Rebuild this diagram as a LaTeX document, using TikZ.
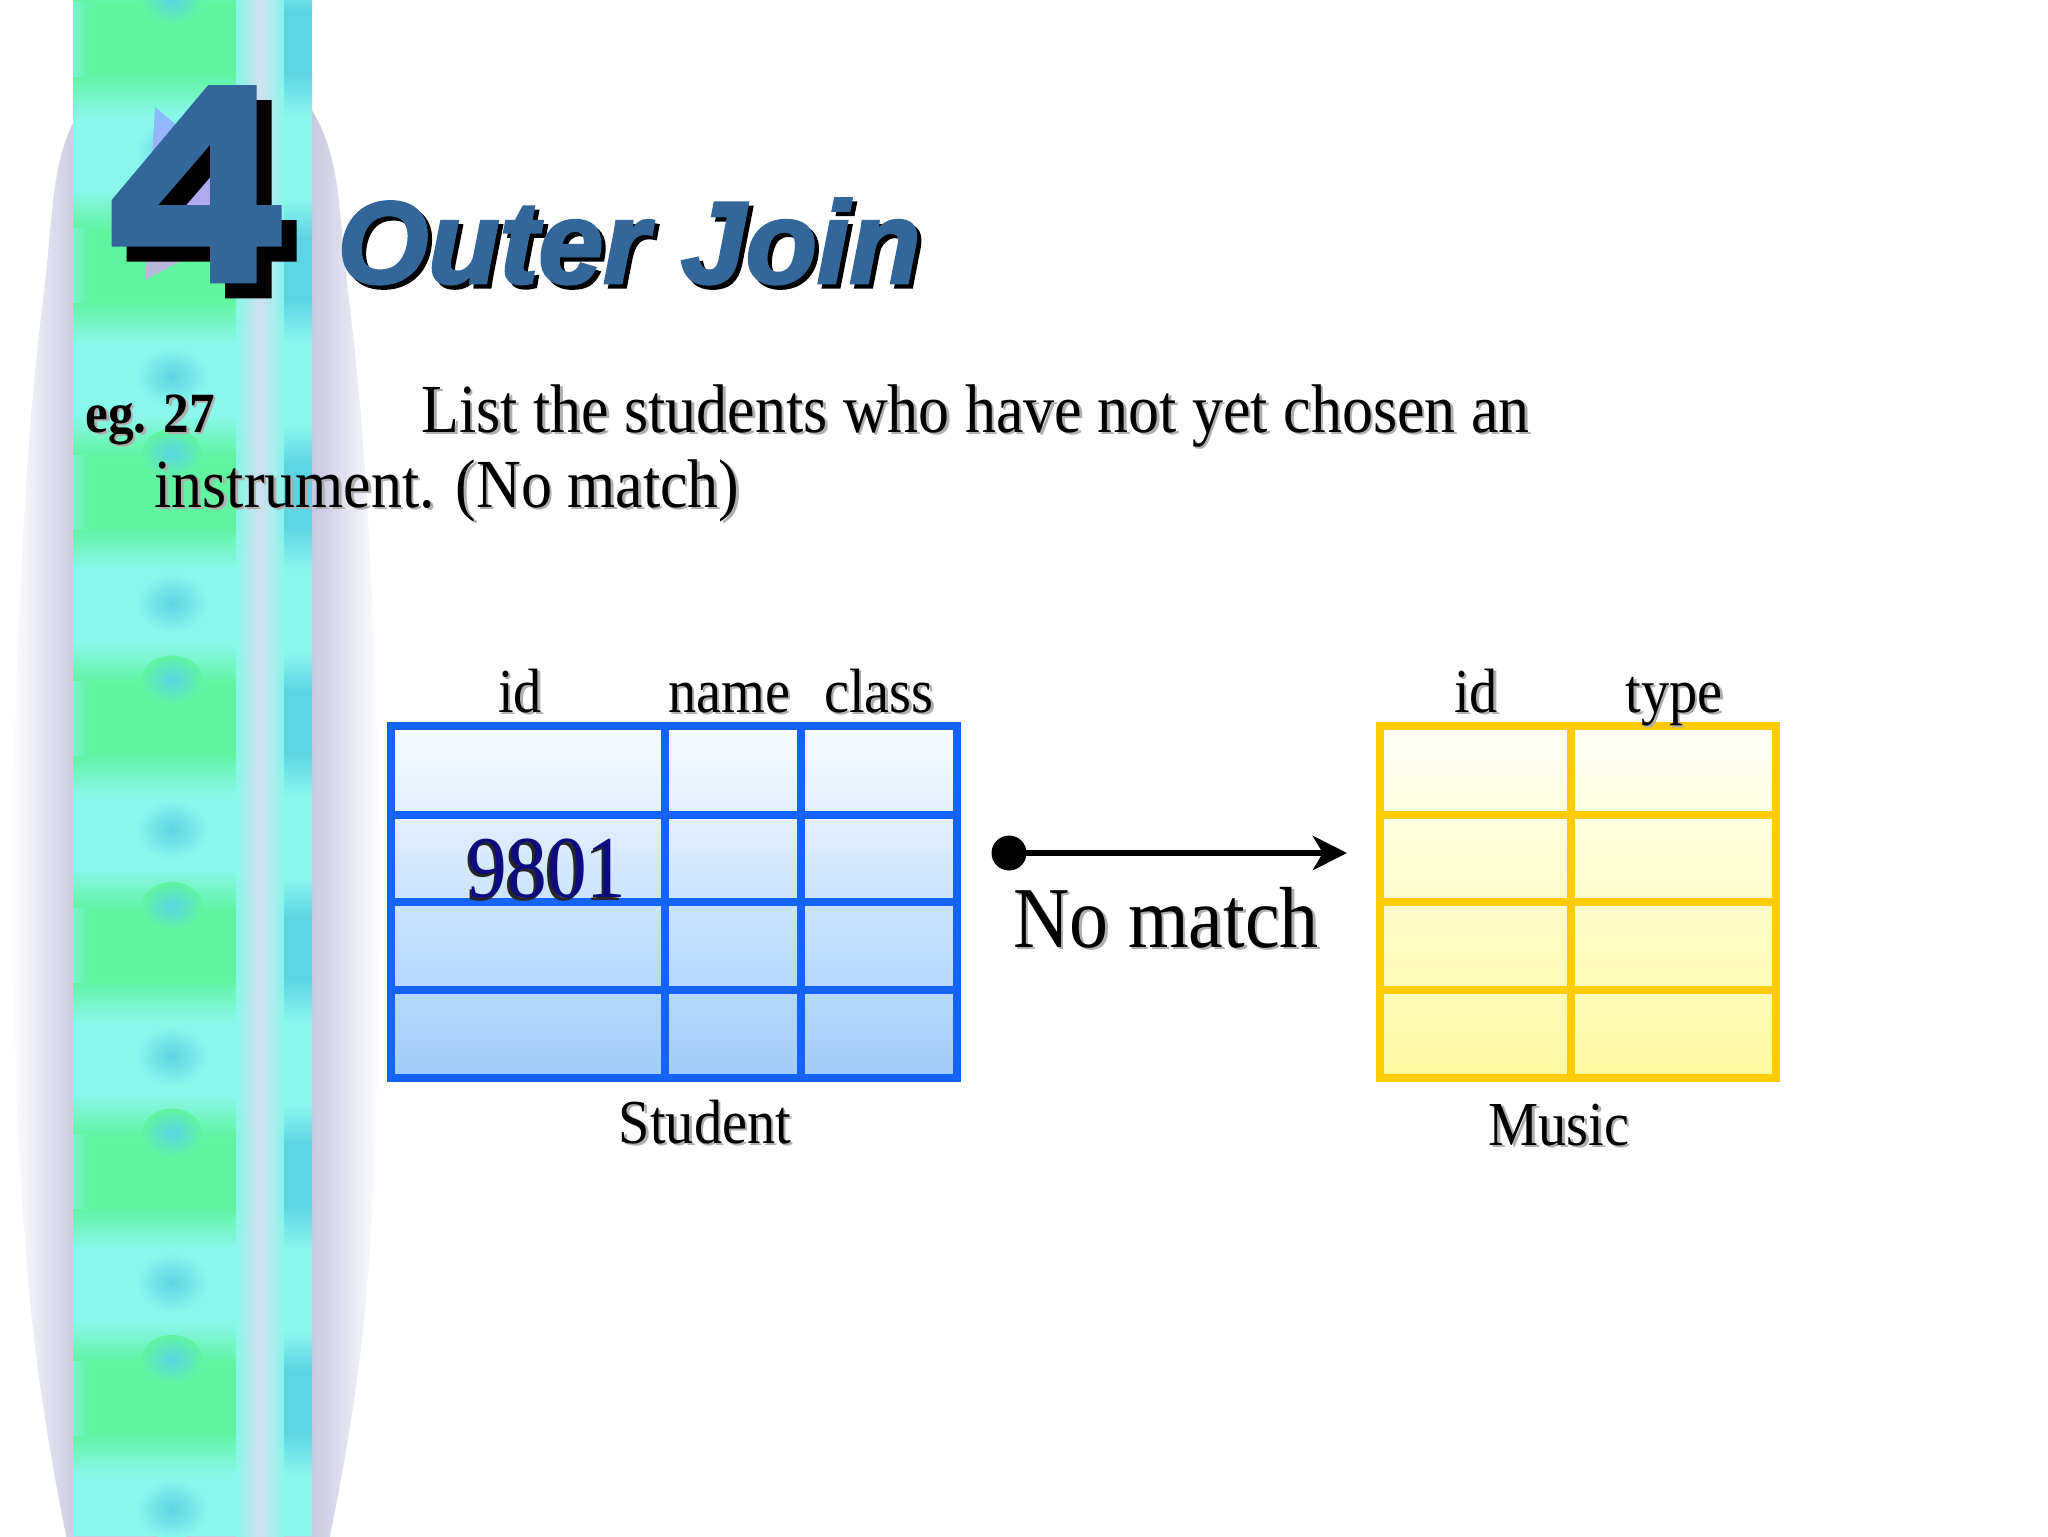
\documentclass[tikz,border=0pt]{standalone}
\usepackage{fontspec}
\setmainfont{Liberation Serif}[FakeStretch=0.9]
\newfontfamily\titlefont{Liberation Sans}[BoldItalicFeatures={FakeBold=2.5}]
\usetikzlibrary{arrows.meta}
\definecolor{titleblue}{RGB}{51,102,153}
\definecolor{stuline}{RGB}{20,100,250}
\definecolor{stutop}{RGB}{247,251,255}
\definecolor{stubot}{RGB}{160,204,250}
\definecolor{musline}{RGB}{255,204,0}
\definecolor{mustop}{RGB}{255,255,246}
\definecolor{musbot}{RGB}{255,250,160}
\definecolor{lav}{RGB}{200,200,224}
\definecolor{aqua}{RGB}{138,247,236}
\definecolor{mint}{RGB}{96,244,160}
\definecolor{teal2}{RGB}{92,212,228}
\definecolor{pale}{RGB}{216,222,240}
\definecolor{navy2}{RGB}{12,12,128}
\definecolor{shadowgray}{RGB}{175,175,175}
\definecolor{tri1}{RGB}{136,187,255}
\definecolor{tri2}{RGB}{176,168,240}
\definecolor{tri3}{RGB}{186,186,214}
\pgfdeclarehorizontalshading{lavshade}{100bp}{color(0bp)=(white); color(25bp)=(white); color(34bp)=(lav); color(66bp)=(lav); color(75bp)=(white); color(100bp)=(white)}
% text with a drop shadow, set inside one node
\newcommand\shd[2][shadowgray]{\leavevmode\rlap{\kern0.9pt\raisebox{-0.9pt}{\textcolor{#1}{#2}}}#2}
\tikzset{
  body/.style={inner sep=0, text=black, font=\fontsize{24.2}{28}\selectfont},
  egst/.style={inner sep=0, text=black, font=\fontsize{20}{24}\selectfont\bfseries},
  lbl/.style={inner sep=0, text=black, font=\fontsize{22}{26}\selectfont},
  bigtxt/.style={inner sep=0, text=black, font=\fontsize{30.5}{36}\selectfont},
  numtxt/.style={inner sep=0, text=navy2, font=\fontsize{31}{36}\selectfont},
  titletxt/.style={inner sep=0, text=titleblue, font=\titlefont\bfseries\itshape\fontsize{41}{48}\selectfont},
  stuframe/.style={draw=stuline, line width=2.9pt},
  musframe/.style={draw=musline, line width=2.9pt},
  conn/.style={line width=2.1pt, -{Stealth[length=12pt, width=12pt, inset=3.5pt]}},
}
\begin{document}
\begin{tikzpicture}[x=0.3516pt, y=-0.3516pt]
\useasboundingbox (0,0) rectangle (2048,1536);
\clip (0,0) rectangle (2048,1536);
\fill[white] (0,0) rectangle (2048,1536);

% lavender backdrop
\shade[shading=lavshade] plot[smooth, tension=0.7] coordinates
  {(67,1540) (30,1300) (13,950) (20,600) (43,300) (80,110) (196,40) (312,110) (349,300) (372,600) (379,950) (366,1300) (329,1540)} -- cycle;

% strip
\fill[aqua] (73,0) rectangle (312,1536);
\foreach \k in {0,...,6} {
  \pgfmathsetmacro\yy{-8+226.5*\k}
  \shade[top color=aqua, bottom color=mint] (73,\yy-30) rectangle (250,\yy+12);
  \fill[mint] (73,\yy+12) rectangle (250,\yy+82);
  \shade[top color=mint, bottom color=aqua] (73,\yy+82) rectangle (250,\yy+125);
  \shade[left color=aqua, right color=mint, opacity=0.6] (73,\yy+10) rectangle (90,\yy+84);
  \shade[inner color=teal2, outer color=aqua] (172,\yy+158) ellipse (36 and 30);
  \shade[inner color=teal2, outer color=mint] (172,\yy+8) ellipse (30 and 24);
  \shade[top color=aqua, bottom color=teal2] (277,\yy-20) rectangle (312,\yy+20);
  \fill[teal2] (277,\yy+20) rectangle (312,\yy+80);
  \shade[top color=teal2, bottom color=aqua] (277,\yy+80) rectangle (312,\yy+125);
}
\shade[left color=aqua, right color=aqua, middle color=pale, opacity=0.9] (236,0) rectangle (284,1536);

% triangle behind the 4
\shade[top color=tri1, bottom color=tri3, middle color=tri2] (155,107) -- (277,210) -- (145,280) -- cycle;
% the 4 (shadow, then face)
\fill[black, even odd rule, shift={(15,15)}]
  (256.7,85) -- (208.3,85) -- (111.7,200) -- (111.7,246.7) -- (210,246.7) -- (210,283.3) -- (256.7,283.3) -- (256.7,246.7) -- (281.7,246.7) -- (281.7,205) -- (256.7,205) -- cycle
  (158.3,205) -- (210,145) -- (210,205) -- cycle;
\fill[titleblue, even odd rule]
  (256.7,85) -- (208.3,85) -- (111.7,200) -- (111.7,246.7) -- (210,246.7) -- (210,283.3) -- (256.7,283.3) -- (256.7,246.7) -- (281.7,246.7) -- (281.7,205) -- (256.7,205) -- cycle
  (158.3,205) -- (210,145) -- (210,205) -- cycle;

% title
\node[titletxt, anchor=base west] (title) at (337,283)
  {\leavevmode\rlap{\kern1.5pt\raisebox{-1.5pt}{\textcolor{black}{Outer Join}}}Outer Join};

% question text
\node[egst, anchor=base west] (eg) at (85,432) {\shd{eg. 27}};
\node[body, anchor=base west] (q1) at (421,432) {\shd{List the students who have not yet chosen an}};
\node[body, anchor=base west] (q2) at (154,507) {\shd{instrument. (No match)}};

% Student table
\shade[top color=stutop, bottom color=stubot] (391,726) rectangle (957,1078);
\draw[stuframe] (665,726) -- (665,1078) (801,726) -- (801,1078)
  (391,815) -- (957,815) (391,902) -- (957,902) (391,990) -- (957,990);
\draw[stuframe] (391,726) rectangle (957,1078);
\node[lbl, anchor=base] (sid) at (520,712) {\shd{id}};
\node[lbl, anchor=base] (sname) at (729,712) {\shd{name}};
\node[lbl, anchor=base] (sclass) at (879,712) {\shd{class}};
\node[lbl, anchor=base] (stu) at (705,1143) {\shd{Student}};
\node[numtxt, anchor=base] (num) at (547,897)
  {\leavevmode\rlap{\kern-0.9pt\raisebox{-1.2pt}{\textcolor{black!85}{9801}}}9801};

% Music table
\shade[top color=mustop, bottom color=musbot] (1380,726) rectangle (1776,1078);
\draw[musframe] (1571,726) -- (1571,1078)
  (1380,815) -- (1776,815) (1380,902) -- (1776,902) (1380,990) -- (1776,990);
\draw[musframe] (1380,726) rectangle (1776,1078);
\node[lbl, anchor=base] (mid) at (1476,712) {\shd{id}};
\node[lbl, anchor=base] (mtype) at (1674,712) {\shd{type}};
\node[lbl, anchor=base] (mus) at (1559,1145) {\shd{Music}};

% arrow
\node[circle, fill=black, inner sep=0, minimum size=12.3pt] (dot) at (1009,853) {};
\coordinate (tip) at (1347,853);
\draw[conn] (dot.center) -- (tip);
\node[bigtxt, anchor=base] (nomatch) at (1166,947) {\shd[shadowgray]{No match}};
\end{tikzpicture}
\end{document}
